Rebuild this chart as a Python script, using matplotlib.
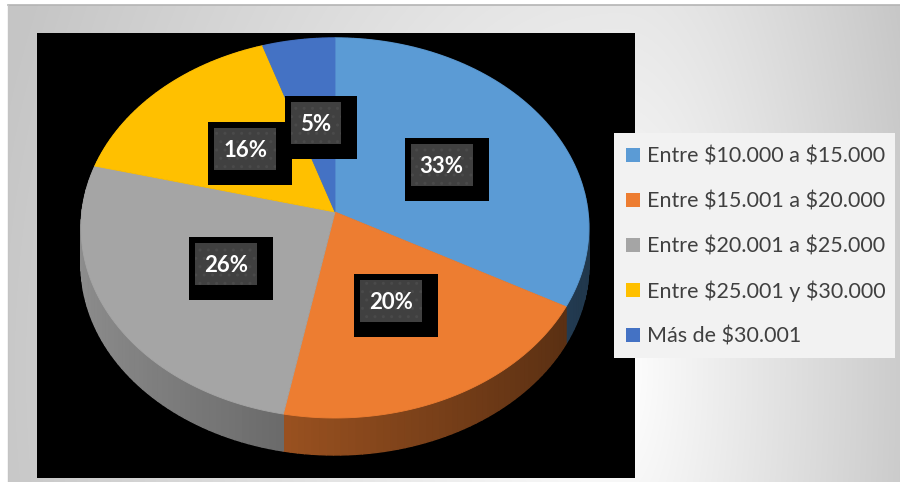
import numpy as np
import matplotlib.pyplot as plt
from matplotlib.patches import Polygon, Rectangle
from matplotlib.colors import to_rgb

plt.rcParams['text.parse_math'] = False

categories = ['Entre $10.000 a $15.000', 'Entre $15.001 a $20.000',
              'Entre $20.001 a $25.000', 'Entre $25.001 y $30.000',
              'Más de $30.001']
shares = [33, 20, 26, 16, 5]
colors = ['#5B9BD5', '#ED7D31', '#A5A5A5', '#FFC000', '#4472C4']

# 3d pie geometry in pixel space (tilted disc seen with a bit of perspective)
CX, CY = 335, 212
A, B, K = 253, 188.7, 0.084
DEPTH = 37


def proj(phi, r=1.0):
    phi = np.radians(phi)
    u = r * np.sin(phi)
    v = r * np.cos(phi)
    s = 1 / (1 + K * v)
    return CX + A * u * s, CY - B * v * s


fig = plt.figure(figsize=(9, 4.82), dpi=100)
ax = fig.add_axes([0, 0, 1, 1])

# slide background, light in the middle and greyer towards the edges
yy, xx = np.mgrid[0:482, 0:900] + 0.5
dx = xx - 620
rx = np.where(dx > 0, 320, 650)
d = np.sqrt((dx / rx) ** 2 + ((yy - 370) / 900) ** 2)
g = 255 - 58 * np.clip(d, 0, 1)
g[(yy < 5) | (xx < 8)] = 255
ax.imshow(np.dstack([g, g, g]) / 255, extent=(0, 900, 482, 0), zorder=0)
ax.plot([8, 900], [5, 5], color='#b4b4b4', lw=1.2, zorder=1)
ax.plot([8, 8], [5, 482], color='#c4c4c4', lw=1.0, zorder=1)

ax.add_patch(Rectangle((37, 33), 598, 445, fc='black', ec='none', zorder=2))

total = sum(shares)
bounds = np.concatenate([[0], np.cumsum(shares)]) / total * 360

# side wall, shaded as if lit from the left
for i, col in enumerate(colors):
    a0, a1 = bounds[i], bounds[i + 1]
    n = max(2, int((a1 - a0) / 1.5))
    steps = np.linspace(a0, a1, n + 1)
    base = np.array(to_rgb(col))
    for s0, s1 in zip(steps[:-1], steps[1:]):
        x0, y0 = proj(s0)
        x1, y1 = proj(s1)
        f = 0.6 - 0.25 * np.sin(np.radians((s0 + s1) / 2))
        c = np.clip(base * f, 0, 1)
        ax.add_patch(Polygon([(x0, y0), (x1, y1), (x1, y1 + DEPTH), (x0, y0 + DEPTH)],
                             closed=True, fc=c, ec=c, lw=1.0, zorder=3))

# top faces
for i, col in enumerate(colors):
    arc = np.linspace(bounds[i], bounds[i + 1], 120)
    px, py = proj(arc)
    pts = [(CX, CY)] + list(zip(px, py))
    ax.add_patch(Polygon(pts, closed=True, fc=col, ec=col, lw=0.6, zorder=4))

# data labels
renderer = fig.canvas.get_renderer()
for i, val in enumerate(shares):
    mid = (bounds[i] + bounds[i + 1]) / 2
    lx, ly = proj(mid, 0.5)
    t = ax.text(lx, ly + 8, f'{val}%', color='white', fontsize=16,
                fontweight='bold', family=['Lato', 'DejaVu Sans'],
                ha='center', va='baseline', zorder=7)
    w = t.get_window_extent(renderer=renderer).width
    gw, gh = w + 18, 42
    gx, gy = lx - gw / 2, ly - gh / 2
    ax.add_patch(Rectangle((gx - 6, gy - 6), gw + 22, gh + 21, fc='black',
                           ec='none', zorder=5))
    ax.add_patch(Rectangle((gx, gy), gw, gh, fc='#404040', ec='#4a4a4a',
                           lw=0, hatch='..', zorder=6))

# legend
ax.add_patch(Rectangle((614, 133), 281, 225, fc='#F2F2F2', ec='none', zorder=8))
for i, (lab, col) in enumerate(zip(categories, colors)):
    ry = 155 + 45 * i
    ax.add_patch(Rectangle((626, ry - 7), 14, 14, fc=col, ec='none', zorder=9))
    ax.text(647, ry + 7.5, lab, color='#404040', fontsize=15.5,
            family=['Lato', 'DejaVu Sans'], ha='left', va='baseline', zorder=9)

ax.set_xlim(0, 900)
ax.set_ylim(482, 0)
ax.set_aspect('auto')
ax.axis('off')

fig.savefig('out.png', dpi=100)
